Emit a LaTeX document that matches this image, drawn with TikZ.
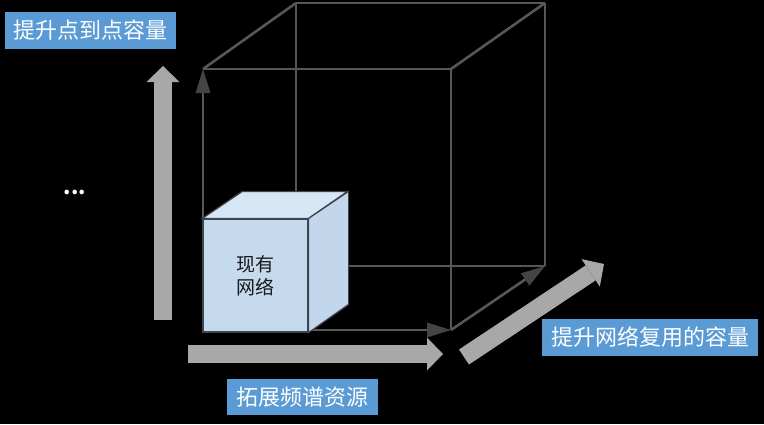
\documentclass[tikz,border=0pt]{standalone}
\usepackage{fontspec}
\newfontfamily\cjk{Noto Sans CJK SC}
\usetikzlibrary{arrows.meta}

\definecolor{labelblue}{HTML}{5B9BD5}
\definecolor{edgegray}{HTML}{575757}
\definecolor{tipgray}{HTML}{444444}
\definecolor{bargray}{HTML}{A8A8A8}
\definecolor{netfront}{HTML}{C6DAEE}
\definecolor{nettop}{HTML}{D7E6F4}
\definecolor{netside}{HTML}{C2D7EC}
\definecolor{netline}{HTML}{3E4452}

\tikzset{
  edge/.style={draw=edgegray, line width=2.6pt},
  axis/.style={edge, -{Triangle[length=24pt,width=15pt,line width=0pt,color=tipgray]}},
  bar/.style={draw=bargray, line width=18pt,
              -{Triangle[length=16pt,width=33pt,line width=0pt]}},
  tag/.style={fill=labelblue, text=white, inner sep=0pt,
              font=\cjk\fontsize{22}{24}\selectfont, minimum height=37pt},
}

\begin{document}
\begin{tikzpicture}[x=1pt,y=-1pt]
    \fill[black] (0,0) rectangle (764,424);
    \useasboundingbox (0,0) rectangle (764,424);

    \coordinate (A) at (203,330);
    \coordinate (B) at (451,330);
    \coordinate (C) at (451,69);
    \coordinate (D) at (203,69);
    \coordinate (E) at (296,266);
    \coordinate (F) at (545,266);
    \coordinate (G) at (545,3);
    \coordinate (H) at (296,3);

    \foreach \from/\to in {B/C,C/D,D/H,H/G,G/C,G/F,H/E,E/F}
        \draw[edge] (\from) -- (\to);
    \foreach \from/\to in {A/D,A/B,B/F}
        \draw[axis] (\from) -- (\to);

    % existing network
    \node[draw=netline, line width=1.2pt, fill=netfront, minimum width=105pt,
          minimum height=113pt, align=center, text=black!90,
          font=\cjk\fontsize{19}{23}\selectfont] (net) at (255.5,275.5) {现有\\网络};
    \draw[netline, line width=1.2pt, fill=nettop]
        (net.north west) -- ++(40,-27) -- ++(105,0) -- (net.north east) -- cycle;
    \draw[netline, line width=1.2pt, fill=netside]
        (net.north east) -- ++(40,-27) -- ++(0,113) -- (net.south east) -- cycle;

    \coordinate (up0)    at (163,320);
    \coordinate (up1)    at (163,66);
    \coordinate (right0) at (188,354);
    \coordinate (right1) at (443,354);
    \coordinate (diag0)  at (464,357);
    \coordinate (diag1)  at (604,264);

    \draw[bar] (up0) -- (up1);
    \draw[bar] (right0) -- (right1);
    \draw[bar] (diag0) -- (diag1);

    \node[tag, minimum width=171pt] (p2p) at (90.5,30.5) {提升点到点容量};
    \node[tag, minimum width=216pt] (reuse) at (650,337.5) {提升网络复用的容量};
    \node[tag, minimum width=151pt, minimum height=36pt] (spectrum) at (302.5,397) {拓展频谱资源};

    \node[text=white, font=\cjk\bfseries\fontsize{21}{21}\selectfont] (more) at (75,192) {...};
\end{tikzpicture}
\end{document}
